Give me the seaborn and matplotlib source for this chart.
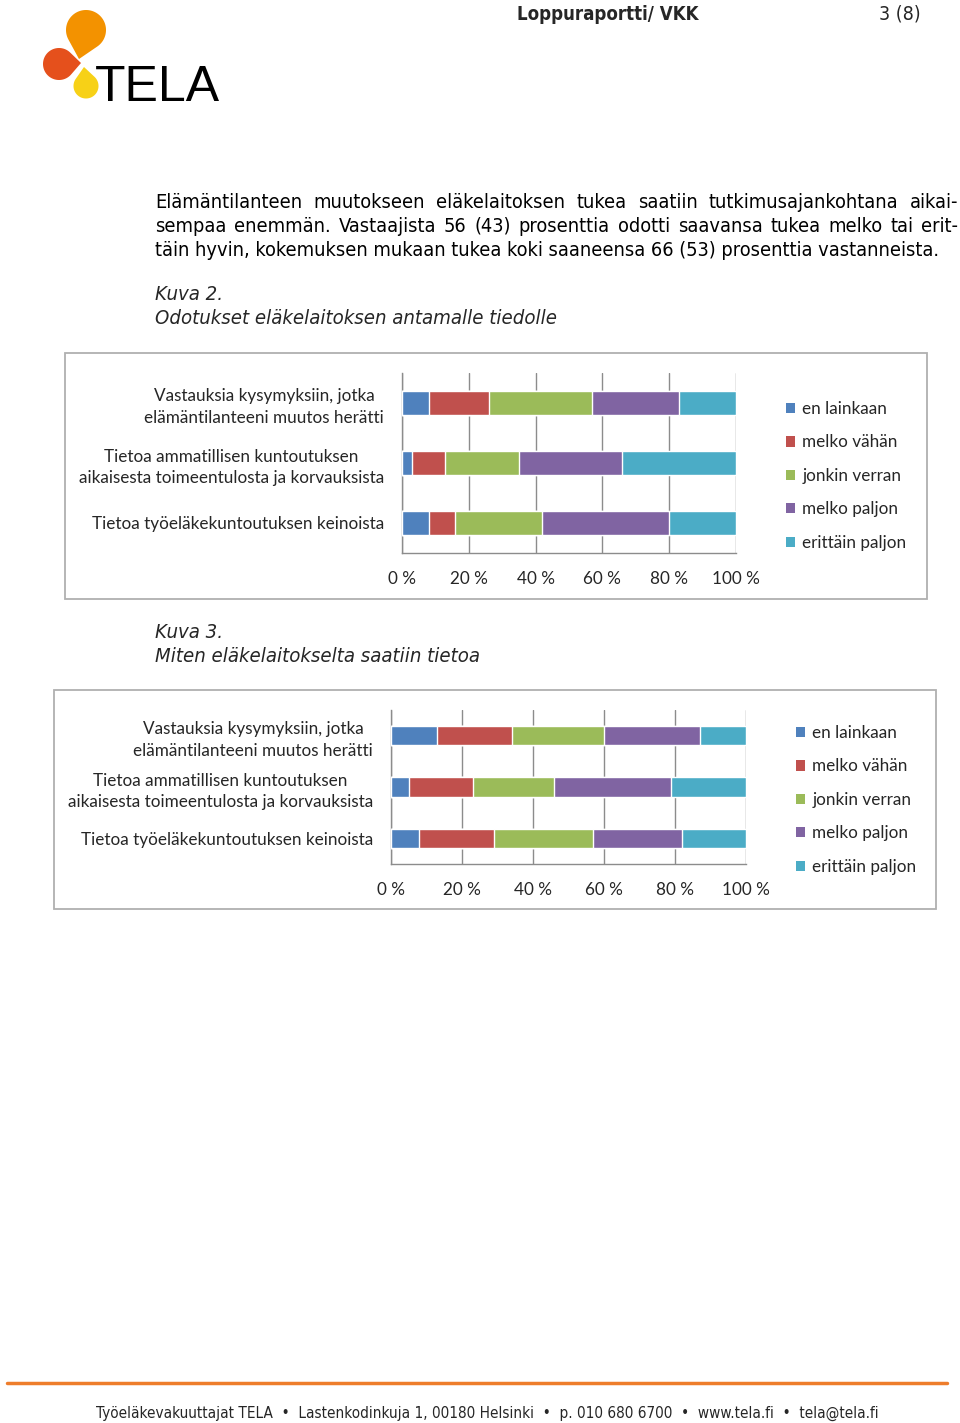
import numpy as np
import pandas as pd
import seaborn as sns
import matplotlib.pyplot as plt
from matplotlib.patches import Patch, Polygon, Rectangle
from matplotlib.lines import Line2D

# -------------------------
# Data (percent of respondents)
# -------------------------
questions = [
    "Vastauksia kysymyksiin, jotka\nelämäntilanteeni muutos herätti",
    "Tietoa ammatillisen kuntoutuksen\naikaisesta toimeentulosta ja korvauksista",
    "Tietoa työeläkekuntoutuksen keinoista",
]
answers = ["en lainkaan", "melko vähän", "jonkin verran", "melko paljon", "erittäin paljon"]
colors = ["#4F81BD", "#C0504D", "#9BBB59", "#8064A2", "#4BACC6"]
tick_values = [0, 20, 40, 60, 80, 100]
tick_labels = ["0 %", "20 %", "40 %", "60 %", "80 %", "100 %"]

# Kuva 2: odotukset
exp_en_lainkaan = [8, 3, 8]
exp_melko_vahan = [18, 10, 8]
exp_jonkin_verran = [31, 22, 26]
exp_melko_paljon = [26, 31, 38]
exp_erittain_paljon = [17, 34, 20]

# Kuva 3: saatu tieto
got_en_lainkaan = [13, 5, 8]
got_melko_vahan = [21, 18, 21]
got_jonkin_verran = [26, 23, 28]
got_melko_paljon = [27, 33, 25]
got_erittain_paljon = [13, 21, 18]

# -------------------------
# Page setup
# -------------------------
sns.set_style("white")
W, H = 960, 1423
fig = plt.figure(figsize=(W / 100, H / 100), dpi=100)
fig.set_facecolor("white")

CHART_FONT = "Lato"
CHART_SIZE = 12.3
BODY = dict(family="DejaVu Sans", fontstretch="condensed")
GREY = "#8c8c8c"


def fx(x):
    return x / W


def fy(y):
    return 1 - y / H


def px_axes(x0, y0, x1, y1):
    return fig.add_axes([fx(x0), fy(y1), (x1 - x0) / W, (y1 - y0) / H])


def stacked_chart(box, rect, series, legend_xy, bar_w):
    bx0, by0, bx1, by1 = box
    fig.patches.append(Rectangle((fx(bx0), fy(by1)), (bx1 - bx0) / W, (by1 - by0) / H,
                                 transform=fig.transFigure, fill=False,
                                 edgecolor="#b0b0b0", lw=1.3))
    ax = px_axes(*rect)
    df = pd.DataFrame(dict(zip(answers, series)), index=questions)
    cum = df.cumsum(axis=1)
    # draw cumulative bars from the longest to the shortest so they stack visually
    for ans, col in reversed(list(zip(answers, colors))):
        sns.barplot(x=cum[ans].values, y=questions, order=questions, orient="h",
                    color=col, saturation=1, width=bar_w, ax=ax, zorder=3)
    ax.set_xlim(0, 100)
    ax.set_ylim(2.5, -0.5)
    ax.set_xlabel("")
    ax.set_ylabel("")
    ax.set_xticks(tick_values)
    ax.set_xticklabels(tick_labels, family=CHART_FONT, fontsize=CHART_SIZE)
    ax.xaxis.grid(True, color=GREY, lw=1, zorder=0)
    ax.yaxis.grid(False)
    ax.set_axisbelow(True)
    for s in ["top", "right"]:
        ax.spines[s].set_visible(False)
    for s in ["left", "bottom"]:
        ax.spines[s].set_color(GREY)
        ax.spines[s].set_linewidth(1)
    ax.tick_params(axis="x", length=4, color=GREY, pad=9)
    ax.tick_params(axis="y", which="major", length=0, pad=13)
    ax.set_yticks([-0.5, 0.5, 1.5, 2.5], minor=True)
    ax.tick_params(axis="y", which="minor", length=4, color=GREY)
    for t in ax.get_yticklabels():
        t.set_family(CHART_FONT)
        t.set_fontsize(CHART_SIZE)
        t.set_multialignment("center")
        t.set_linespacing(1.45)
    handles = [Patch(facecolor=c, edgecolor="none") for c in colors]
    lx, ly = legend_xy
    ax.legend(handles, answers, loc="upper left", bbox_to_anchor=(fx(lx), fy(ly)),
              bbox_transform=fig.transFigure, frameon=False, handlelength=0.55,
              handleheight=0.55, handletextpad=0.4, labelspacing=1.02, borderpad=0,
              borderaxespad=0, prop=dict(family=CHART_FONT, size=CHART_SIZE))
    return ax


stacked_chart((65, 353, 927, 599), (402, 373, 736, 553),
              [exp_en_lainkaan, exp_melko_vahan, exp_jonkin_verran,
               exp_melko_paljon, exp_erittain_paljon],
              (786, 401), 0.39)

stacked_chart((54, 690, 936, 909), (391, 710, 746, 864),
              [got_en_lainkaan, got_melko_vahan, got_jonkin_verran,
               got_melko_paljon, got_erittain_paljon],
              (796, 725), 0.38)

# -------------------------
# Logo
# -------------------------
lax = px_axes(30, 0, 240, 115)
lax.set_xlim(30, 240)
lax.set_ylim(115, 0)
lax.axis("off")


def drop(cx, cy, r, tx, ty, color):
    d = np.hypot(tx - cx, ty - cy)
    a = np.arctan2(ty - cy, tx - cx)
    off = np.arccos(r / d)
    th = np.linspace(a + off, a + 2 * np.pi - off, 80)
    pts = np.column_stack([cx + r * np.cos(th), cy + r * np.sin(th)])
    pts = np.vstack([pts, [tx, ty]])
    lax.add_patch(Polygon(pts, closed=True, facecolor=color, edgecolor="none"))


drop(86, 30, 20, 79, 59, "#F39200")
drop(59, 64, 16, 81, 63, "#E5501C")
drop(86, 86, 12.5, 84, 67, "#F7D117")
lax.text(95, 101, "TELA", fontsize=36, family="Liberation Sans", color="black",
         va="baseline", ha="left")

# -------------------------
# Header, body text, captions
# -------------------------
fig.text(fx(517), fy(14), "Loppuraportti/ VKK", fontsize=13.4, weight="bold",
         va="center", ha="left", **BODY)
fig.text(fx(921), fy(14), "3 (8)", fontsize=14, va="center", ha="right", **BODY)

renderer = fig.canvas.get_renderer()


def justified(line, x0, x1, y, **kw):
    words = line.split()
    ts = [fig.text(0, 0, w, va="center", ha="left", **kw) for w in words]
    widths = [t.get_window_extent(renderer).width for t in ts]
    gap = (x1 - x0 - sum(widths)) / (len(words) - 1)
    x = x0
    for t, w in zip(ts, widths):
        t.set_position((fx(x), fy(y)))
        x += w + gap


body_kw = dict(fontsize=14.3, color="black", **BODY)
justified("Elämäntilanteen muutokseen eläkelaitoksen tukea saatiin tutkimusajankohtana aikai-",
          155, 958, 202, **body_kw)
justified("sempaa enemmän. Vastaajista 56 (43) prosenttia odotti saavansa tukea melko tai erit-",
          155, 958, 226, **body_kw)
fig.text(fx(155), fy(250), "täin hyvin, kokemuksen mukaan tukea koki saaneensa 66 (53) prosenttia vastanneista.",
         va="center", ha="left", **body_kw)

cap_kw = dict(fontsize=14.6, style="italic", va="center", ha="left", **BODY)
fig.text(fx(155), fy(295), "Kuva 2.", **cap_kw)
fig.text(fx(155), fy(319), "Odotukset eläkelaitoksen antamalle tiedolle", **cap_kw)
fig.text(fx(155), fy(632), "Kuva 3.", **cap_kw)
fig.text(fx(155), fy(656), "Miten eläkelaitokselta saatiin tietoa", **cap_kw)

# -------------------------
# Footer
# -------------------------
fig.add_artist(Line2D([fx(7), fx(947)], [fy(1383), fy(1383)], color="#EE7D2B", lw=2.5,
                      transform=fig.transFigure))
fig.text(fx(487), fy(1413),
         "Työeläkevakuuttajat TELA  •  Lastenkodinkuja 1, 00180 Helsinki  •  p. 010 680 6700  •  www.tela.fi  •  tela@tela.fi",
         fontsize=11, va="center", ha="center", **BODY)

plt.savefig("out.png", dpi=100)
plt.close()
